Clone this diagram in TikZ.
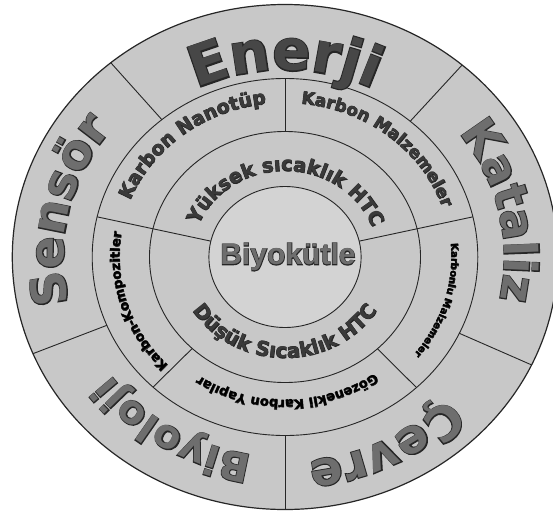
\documentclass[tikz,border=0pt]{standalone}
\usepackage{fontspec}
\usetikzlibrary{calc,decorations.text}
\newfontfamily\dvb{DejaVu Sans Bold}
\newfontfamily\dvo{DejaVu Sans Bold}[FakeBold=4]
\newfontfamily\lsb{Liberation Sans Bold}
\newfontfamily\lso{Liberation Sans Bold}[FakeBold=4]
\definecolor{ringgray}{HTML}{C8C8C8}
\definecolor{coregray}{HTML}{D3D3D3}
\definecolor{bigfill}{HTML}{6E6E6E}
\definecolor{darkfill}{HTML}{474747}
\definecolor{midfill}{HTML}{3A3A3A}
\def\kx{1.08}
\newcommand\ringlabel[6]{%
  % #1 ry, #2 start angle, #3 end angle, #4 size, #5 fill colour, #6 text
  \pgfmathsetmacro\rxx{\kx*#1}%
  \path[decorate,decoration={text along path,text align=center,
      text={|\dvo\fontsize{#4}{#4}\selectfont\color{black!85}|#6}}]
    ($(C)+(#2:\rxx pt and #1pt)$) arc[start angle=#2,end angle=#3,x radius=\rxx pt,y radius=#1pt];
  \path[decorate,decoration={text along path,text align=center,
      text={|\dvb\fontsize{#4}{#4}\selectfont\color{#5}|#6}}]
    ($(C)+(#2:\rxx pt and #1pt)$) arc[start angle=#2,end angle=#3,x radius=\rxx pt,y radius=#1pt];
}
\newcommand\spoke[3]{% angle, inner ry, outer ry
  \draw[spokeline] ($(C)+(#1:{\kx*#2 pt} and #2pt)$) -- ($(C)+(#1:{\kx*#3 pt} and #3pt)$);
}
\begin{document}
\begin{tikzpicture}[x=1pt,y=1pt,
  spokeline/.style={draw=black!85,line width=0.9pt},
  ringline/.style={draw=black!85,line width=0.9pt}]
\useasboundingbox (0,0) rectangle (553,515);
\fill[white] (0,0) rectangle (553,515);
\coordinate (C) at (285,258);
% rings
\filldraw[fill=ringgray,ringline,line width=1.2pt] (C) ellipse[x radius=272.7pt,y radius=252.5pt];
\draw[ringline] (C) ellipse[x radius=192.8pt,y radius=178.5pt];
\draw[ringline] (C) ellipse[x radius=135.5pt,y radius=125.5pt];
\filldraw[fill=coregray,ringline] (C) ellipse[x radius=76.1pt,y radius=70.5pt];
% spokes outer ring
\spoke{49.5}{178.5}{252.5}
\spoke{129.7}{178.5}{252.5}
\spoke{202.5}{178.5}{252.5}
\spoke{270}{178.5}{252.5}
\spoke{334.7}{178.5}{252.5}
% spokes middle ring
\spoke{90}{125.5}{178.5}
\spoke{226.8}{125.5}{178.5}
\spoke{313}{125.5}{178.5}
% spokes through middle and inner rings
\spoke{167}{70.5}{178.5}
\spoke{13}{70.5}{178.5}
% outer labels
\ringlabel{187}{180}{0}{56}{darkfill}{Enerji}
\ringlabel{203}{100}{-76}{46}{bigfill}{Kataliz}
\ringlabel{205}{386}{210}{48}{bigfill}{Çevre}
\ringlabel{200}{325}{149}{40}{bigfill}{Biyoloji}
\ringlabel{205}{256}{80}{48}{bigfill}{Sensör}
% middle labels
\ringlabel{154}{219}{39}{19}{midfill}{Karbon Nanotüp}
\ringlabel{154}{140}{-40}{17}{midfill}{Karbon Malzemeler}
\ringlabel{154}{74}{-106}{10}{black}{Karbonlu Malzemeler}
\ringlabel{143}{361}{181}{13}{black}{Gözenekli Karbon Yapılar}
\ringlabel{153}{287}{107}{13}{black}{Karbon-Kompozitler}
% inner labels
\ringlabel{86}{179}{-1}{19.5}{midfill}{Yüksek sıcaklık HTC}
\ringlabel{101}{180}{360}{20}{midfill}{Düşük Sıcaklık HTC}
% centre
\node[font=\lso\fontsize{30}{30}\selectfont,text=black!85] (core) at (288,258) {Biyokütle};
\node[font=\lsb\fontsize{30}{30}\selectfont,text=bigfill] (corefill) at (288,258) {Biyokütle};
\end{tikzpicture}
\end{document}
